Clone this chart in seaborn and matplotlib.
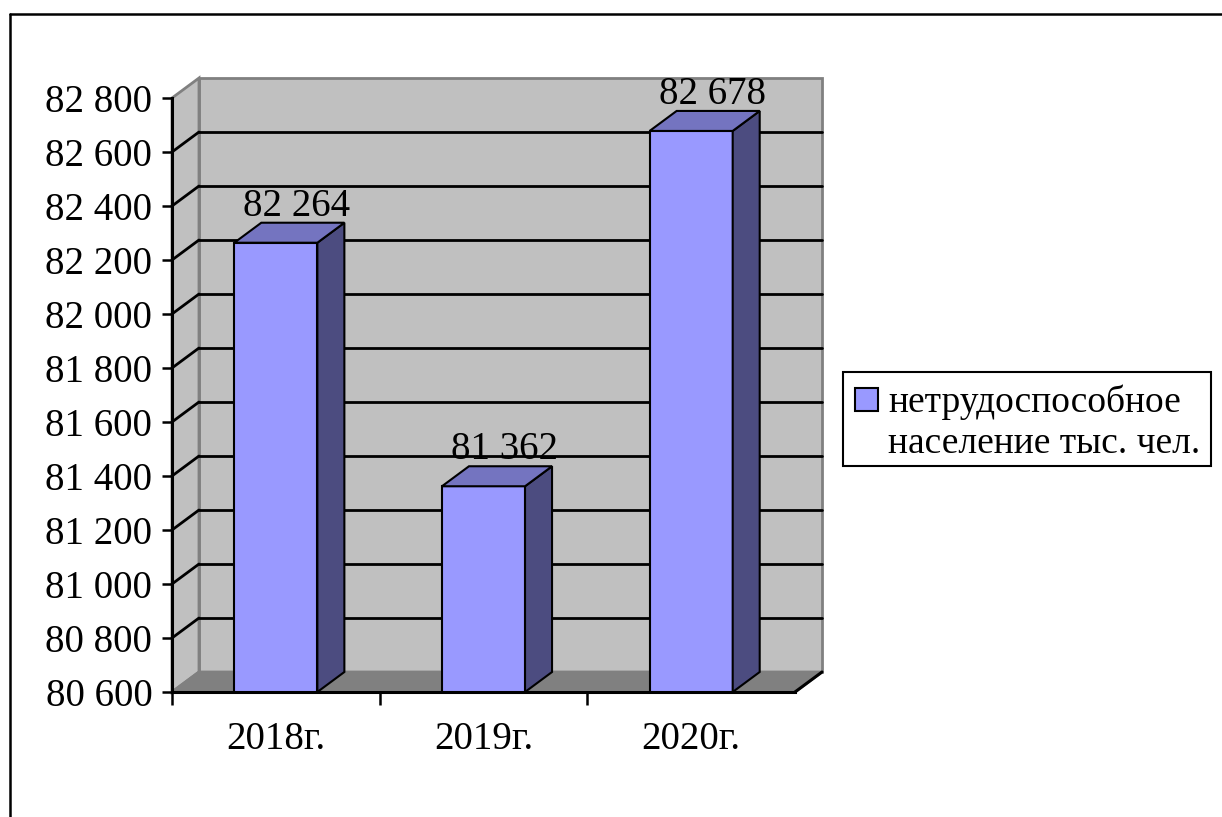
import numpy as np
import pandas as pd
import seaborn as sns
import matplotlib.pyplot as plt
from matplotlib.patches import Polygon, Rectangle
from matplotlib.lines import Line2D
from matplotlib.ticker import FuncFormatter

# Data
years = ["2018г.", "2019г.", "2020г."]
values = [82264, 81362, 82678]
series_name = ["нетрудоспособное", "население тыс. чел."]
y_min, y_max, y_step = 80600, 82800, 200

sns.set_style("white")
plt.rcParams["font.family"] = ["Liberation Serif", "DejaVu Serif"]
plt.rcParams["text.color"] = "black"
plt.rcParams["xtick.color"] = "black"
plt.rcParams["ytick.color"] = "black"

W, H = 1222, 817
fig = plt.figure(figsize=(W / 100, H / 100), dpi=100)
fig.patch.set_facecolor("white")


def px(x, y):
    # pixel position (from top-left) -> figure fraction
    return x / W, 1 - y / H


ax = fig.add_axes([172 / W, 1 - 692 / H, 623 / W, 594 / H])
ax.set_facecolor("none")

df = pd.DataFrame({"year": years, "value": values})

# Draw the front faces of the bars with seaborn
sns.barplot(data=df, x="year", y="value", color="#9999FF", saturation=1,
            width=0.4, edgecolor="black", linewidth=1.5, ax=ax, zorder=2)
bars = list(ax.patches)

ax.set_xlim(-0.5, 2.5)
ax.set_ylim(y_min, y_max)

# depth of the fake 3D box, in data units
dx = 27 / (623 / 3)
dy = 20 / (594 / (y_max - y_min))

wall = "#C0C0C0"
floor = "#808080"
frame = "#808080"

# back wall, side wall and floor
ax.add_patch(Rectangle((-0.5 + dx, y_min + dy), 3, y_max - y_min, facecolor=wall,
                       edgecolor=frame, lw=2, clip_on=False, zorder=0.5))
ax.add_patch(Polygon([(-0.5, y_min), (-0.5 + dx, y_min + dy), (-0.5 + dx, y_max + dy), (-0.5, y_max)],
                     facecolor=wall, edgecolor=frame, lw=2, clip_on=False, zorder=0.5))
ax.add_patch(Polygon([(-0.5, y_min), (2.5, y_min), (2.5 + dx, y_min + dy), (-0.5 + dx, y_min + dy)],
                     facecolor=floor, edgecolor=frame, lw=2, clip_on=False, zorder=0.6))
ax.plot([2.5, 2.5 + dx], [y_min, y_min + dy], color="black", lw=2.2, clip_on=False, zorder=0.7)

# gridlines on the walls
ticks = np.arange(y_min, y_max + 1, y_step)
for v in ticks[1:-1]:
    ax.plot([-0.5 + dx, 2.5 + dx], [v + dy, v + dy], color="black", lw=2, clip_on=False, zorder=0.7)
    ax.plot([-0.5, -0.5 + dx], [v, v + dy], color="black", lw=2, clip_on=False, zorder=0.7)

# side and top faces of the bars + value labels
for p, v in zip(bars, values):
    xl = p.get_x()
    xr = xl + p.get_width()
    top = p.get_y() + p.get_height()
    ax.add_patch(Polygon([(xr, y_min), (xr + dx, y_min + dy), (xr + dx, top + dy), (xr, top)],
                         facecolor="#4C4C80", edgecolor="black", lw=1.5, clip_on=False, zorder=2))
    ax.add_patch(Polygon([(xl, top), (xl + dx, top + dy), (xr + dx, top + dy), (xr, top)],
                         facecolor="#7474C0", edgecolor="black", lw=1.5, clip_on=False, zorder=2))
    ax.annotate(f"{v:,}".replace(",", " "), xy=((xl + xr) / 2 + dx * 0.78, top + dy),
                xytext=(0, 7), textcoords="offset pixels",
                ha="center", va="baseline", fontsize=28, zorder=3)

# axes
ax.set_yticks(ticks)
ax.yaxis.set_major_formatter(FuncFormatter(lambda v, p: f"{int(v):,}".replace(",", " ")))
ax.tick_params(axis="y", direction="out", length=7.2, width=1.8, labelsize=28, pad=7, left=True)
ax.set_xticks(range(3))
ax.set_xticklabels(years)
ax.tick_params(axis="x", which="major", length=0, labelsize=28, pad=21)
ax.set_xticks([-0.5, 0.5, 1.5], minor=True)
ax.tick_params(axis="x", which="minor", direction="out", length=9, width=1.8, bottom=True)
ax.set_xlabel("")
ax.set_ylabel("")
for s in ["top", "right"]:
    ax.spines[s].set_visible(False)
for s in ["left", "bottom"]:
    ax.spines[s].set_color("black")
    ax.spines[s].set_linewidth(2.2)

# legend box
x0, y0 = px(843, 466)
x1, y1 = px(1211, 372)
fig.add_artist(Rectangle((x0, y0), x1 - x0, y1 - y0, transform=fig.transFigure,
                         facecolor="white", edgecolor="black", lw=1.5))
sx0, sy0 = px(855, 411)
sx1, sy1 = px(878, 388)
fig.add_artist(Rectangle((sx0, sy0), sx1 - sx0, sy1 - sy0, transform=fig.transFigure,
                         facecolor="#9999FF", edgecolor="black", lw=1.5))
fig.text(*px(888, 412), series_name[0], fontsize=27, va="baseline", ha="left")
fig.text(*px(888, 453), series_name[1], fontsize=27, va="baseline", ha="left")

# outer chart border
fig.add_artist(Line2D([10 / W, 10 / W], [1 - 14 / H, 0], color="black", lw=1.8))
fig.add_artist(Line2D([10 / W, 1], [1 - 14 / H, 1 - 14 / H], color="black", lw=1.8))

fig.savefig("out.png", dpi=100)
